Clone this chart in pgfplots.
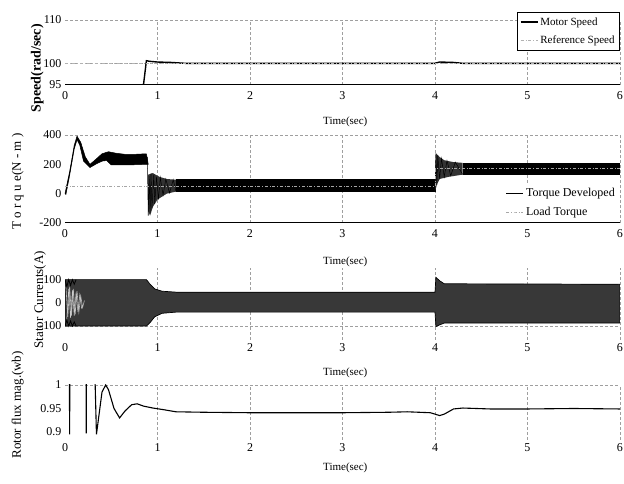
\documentclass[border=0pt]{standalone}
\usepackage{fontspec}
\setmainfont{Liberation Serif}
\usepackage{pgfplots}
\pgfplotsset{compat=1.18}
\pgfplotsset{
  panel/.style={
    scale only axis, width=555pt, xmin=0, xmax=6, xtick={0,...,6},
    xmajorgrids=false, ymajorgrids=false,
    extra x ticks={1,2,3,4,5,6}, extra x tick labels={},
    extra x tick style={xmajorgrids=true, major tick length=0pt},
    grid style={densely dashed, gray!75, line width=0.45pt},
    axis line style={draw=none},
    major tick length=0pt,
    tick label style={font=\fontsize{12}{14}\selectfont},
    /pgf/number format/assume math mode=true,
    xlabel={Time(sec)},
    xlabel style={font=\fontsize{11}{13}\selectfont, at={(axis description cs:0.505,0)}, anchor=center},
    ylabel style={font=\fontsize{13}{15}\selectfont, anchor=center},
    legend cell align=left,
  },
  hgrid/.style={extra y ticks={#1}, extra y tick labels={}, extra y tick style={ymajorgrids=true, xmajorgrids=true, major tick length=0pt}},
}
\begin{document}
\begin{tikzpicture}
\useasboundingbox (0,0) rectangle (624pt,484pt);
% ---------------- Panel 1: speed
\begin{axis}[panel, at={(65pt,399pt)}, anchor=south west, height=65pt,
  ymin=95, ymax=110, ytick={95,100,110}, hgrid={100,110},
  xticklabel style={yshift=-3pt},
  xlabel style={yshift=-37pt},
  ylabel={Speed(rad/sec)}, ylabel style={at={(axis description cs:-0.05,0.26)}, font=\fontsize{14}{16}\selectfont\bfseries},
  legend style={at={(1,1.12)}, anchor=north east, draw=black, line width=0.8pt, font=\fontsize{11}{13}\selectfont, row sep=5pt, inner sep=3pt, fill=white}]
\addplot[black, line width=1.4pt] coordinates {(0,0) (0.5,60) (0.8,93) (0.85,95.3) (0.88,100.6) (0.92,100.45) (1.0,100.3) (1.15,100.2) (1.3,100) (4,100) (4.05,100.3) (4.2,100.2) (4.3,100) (6,100)};
\addlegendentry{Motor Speed}
\addplot[gray!60, dashdotted, line width=0.8pt] coordinates {(0,100) (6,100)};
\addlegendentry{Reference Speed}
\draw[black, line width=1pt] (rel axis cs:0,0) -- (rel axis cs:1,0);
\end{axis}
% ---------------- Panel 2: torque
\begin{axis}[panel, at={(65pt,261pt)}, anchor=south west, height=88pt,
  ymin=-200, ymax=400, ytick={-200,0,200,400}, hgrid={400},
  xticklabel style={yshift=-3pt},
  xlabel style={yshift=-39pt},
  ylabel={T o r q u e(N - m )}, ylabel style={at={(axis description cs:-0.085,0.47)}},
  legend style={at={(1,0.01)}, anchor=south east, draw=none, fill=white, font=\fontsize{12}{14}\selectfont, row sep=5pt, inner sep=3pt}]
\addplot[fill=black, draw=black, line width=0.5pt, forget plot] coordinates {(0,0) (0.05,150) (0.1,330) (0.13,392) (0.17,350) (0.22,250) (0.27,200) (0.33,232) (0.4,272) (0.47,286) (0.55,276) (0.65,268) (0.75,268) (0.88,272) (0.9,200)
 (0.88,200) (0.7,196) (0.5,196) (0.45,226) (0.4,222) (0.33,200) (0.27,178) (0.2,222) (0.16,330) (0.13,368) (0.1,305) (0.05,125) (0.01,-5) (0,0)};
\addplot[fill=gray!40!black, draw=none, forget plot] coordinates {(0.9,130) (0.95,140) (1.02,115) (1.1,100) (1.2,95) (1.2,14) (1.1,0) (1.0,-40) (0.95,-90) (0.92,-150) (0.9,-120)};
\addplot[black, line width=0.5pt, forget plot] coordinates {(0.89,250) (0.9,-150) (0.91,120) (0.92,-130) (0.93,140) (0.94,-100) (0.96,130) (0.97,-70) (0.99,115) (1.01,-40) (1.03,110) (1.06,-10) (1.09,100) (1.13,5) (1.17,95) (1.2,14)};
\addplot[fill=black, draw=black, line width=0.5pt, forget plot] coordinates {(1.2,95) (4,95) (4,14) (1.2,14)};
\addplot[fill=gray!40!black, draw=none, forget plot] coordinates {(4,95) (4.01,275) (4.05,250) (4.1,228) (4.2,215) (4.3,210) (4.3,130) (4.15,115) (4.05,100) (4.02,60) (4,14)};
\addplot[black, line width=0.5pt, forget plot] coordinates {(4,14) (4.01,275) (4.02,60) (4.03,262) (4.05,100) (4.07,240) (4.1,115) (4.13,225) (4.17,122) (4.22,215) (4.3,130)};
\addplot[fill=black, draw=black, line width=0.5pt, forget plot] coordinates {(4.3,210) (6,210) (6,130) (4.3,130)};
\addplot[black, line width=1.2pt] coordinates {(6,-500) (6,-500)};
\addlegendentry{Torque Developed}
\addplot[gray!70, dashdotted, line width=0.8pt] coordinates {(0,50) (4,50) (4,170) (6,170)};
\addlegendentry{Load Torque}
\draw[black, line width=1pt] (rel axis cs:0,0) -- (rel axis cs:1,0);
\end{axis}
% ---------------- Panel 3: stator currents
\begin{axis}[panel, at={(65pt,144pt)}, anchor=south west, height=72pt,
  ymin=-160, ymax=150, ytick={-100,0,100}, hgrid={-100},
  xlabel style={yshift=-33pt},
  ylabel={Stator Currents(A)}, ylabel style={at={(axis description cs:-0.045,0.56)}}]
\addplot[fill=black!78, draw=black, line width=0.7pt] coordinates {(0,100) (0.88,100) (0.92,80) (0.97,60) (1.05,50) (1.2,46) (4,46) (4.01,110) (4.05,95) (4.1,82) (6,80)
 (6,-87) (4.1,-87) (4.05,-95) (4.01,-102) (4,-40) (1.2,-40) (1.05,-45) (0.97,-60) (0.92,-85) (0.88,-100) (0,-100) (0,100)};
\addplot[gray!55, line width=0.6pt] coordinates {(0.01,70) (0.03,-60) (0.05,70) (0.07,-55) (0.09,60) (0.11,-50) (0.13,50) (0.15,-40) (0.17,30) (0.19,-20) (0.21,10)};
\addplot[gray!40, line width=0.5pt] coordinates {(0.02,-70) (0.04,60) (0.06,-65) (0.08,55) (0.10,-55) (0.12,45) (0.14,-40) (0.16,35) (0.18,-25)};
\addplot[black, line width=0.8pt] coordinates {(0,100) (0.02,70) (0.04,100) (0.06,75) (0.08,100) (0.10,80) (0.12,100)};
\addplot[black, line width=0.8pt] coordinates {(0,-100) (0.02,-75) (0.04,-100) (0.06,-78) (0.08,-100) (0.10,-82) (0.12,-100)};
\end{axis}
% ---------------- Panel 4: rotor flux
\begin{axis}[panel, at={(65pt,44pt)}, anchor=south west, height=55pt,
  ymin=0.883, ymax=1, ytick={0.9,0.95,1}, hgrid={1},
  yticklabels={0.9,0.95,1},
  xlabel style={yshift=-28pt},
  ylabel={Rotor flux mag.(wb)}, ylabel style={at={(axis description cs:-0.085,0.64)}}]
\addplot[black, line width=1.1pt] coordinates {(0.045,1.2) (0.05,0.895) (0.055,1.2) (0.225,1.2) (0.23,0.897) (0.235,1.2) (0.3,1.2) (0.34,0.895) (0.40,0.985) (0.44,1.0) (0.47,0.99) (0.53,0.95) (0.59,0.93) (0.65,0.945) (0.72,0.958) (0.78,0.96) (0.85,0.955) (0.95,0.951) (1.05,0.948) (1.2,0.943) (1.5,0.942) (2,0.941) (2.5,0.941) (3,0.941) (3.5,0.942) (3.7,0.943) (3.95,0.941) (4.05,0.935) (4.1,0.938) (4.2,0.949) (4.3,0.951) (4.6,0.949) (5,0.949) (5.5,0.95) (6,0.949)};
\end{axis}
\end{tikzpicture}
\end{document}
